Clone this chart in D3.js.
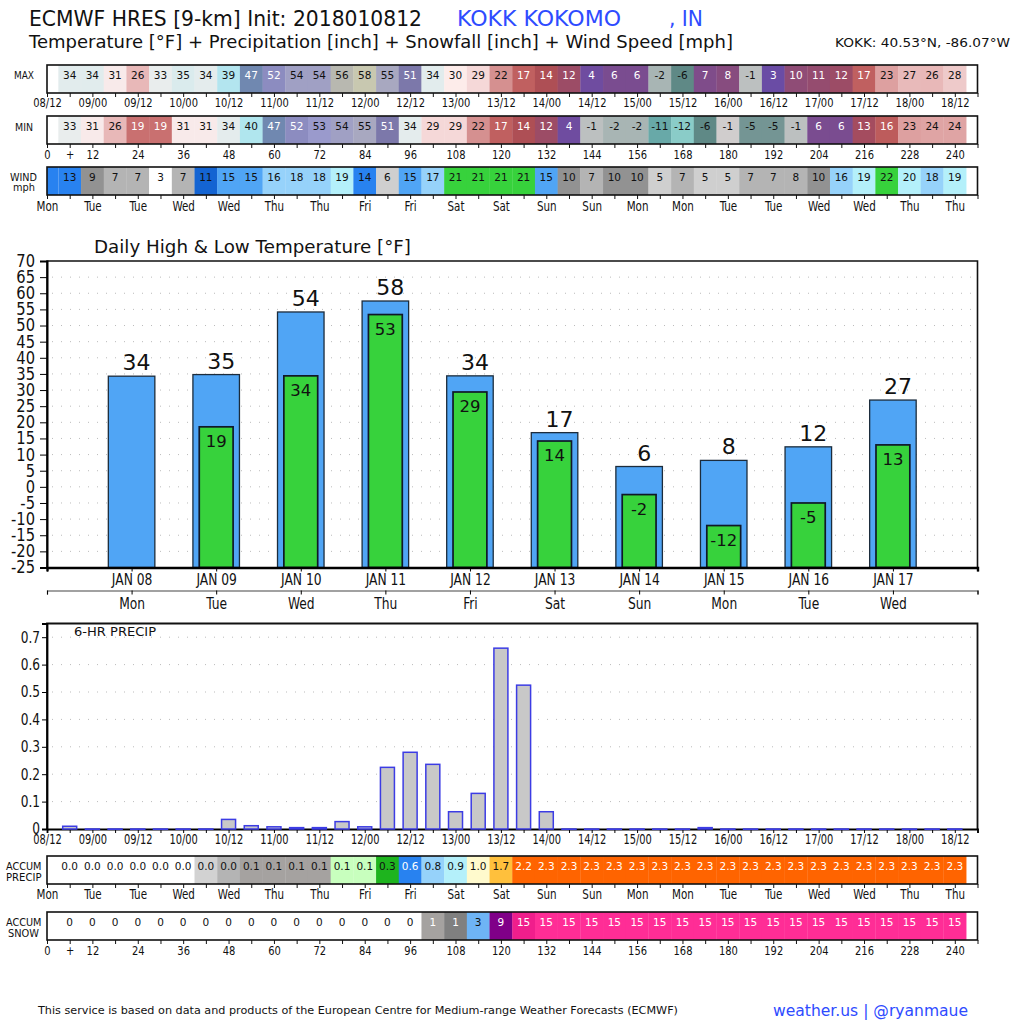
<!DOCTYPE html>
<html>
<head>
<meta charset="utf-8">
<script src="https://cdn.jsdelivr.net/npm/d3@7"></script>
<style>
  html, body { margin: 0; padding: 0; background: #fff; }
  svg { display: block; }
  text { font-family: "DejaVu Sans", sans-serif; fill: #111; }
  .tick text, .cond { font-family: "DejaVu Sans Condensed", "DejaVu Sans", sans-serif; font-stretch: condensed; }
</style>
</head>
<body>
<div id="graphic"></div>
<script>
const width = 1024;
const height = 1024;

const svg = d3.select("#graphic").append("svg")
  .attr("width", width)
  .attr("height", height)
  .attr("viewBox", `0 0 ${width} ${height}`);

// --------------------
// Data, one value per 6 hours, hour 6 to 240
// --------------------
const hours = d3.range(6, 241, 6);

const tMax = [34.2,34.3,31,26,33,35,34,39,47,52,54,54,56,58,55,51,34.2,30,29,22,
  17,14,12,4,6,6,-2,-6,7,8,-1,3,10,11,12,17,23,27,26,28];
const tMin = [33,31,26,19,19,31,31,34,40,47,52,53,54,55,51,34,29,29,22,17,
  14,12,4,-1,-2,-2,-11,-12,-6,-0.6,-5,-5,-1,6,6,13,16,23,24,24];
const wind = [13,9,7,7,3,7,11,15,15,16,18,18,19,14,6,15,17,21,21,21,
  21,15,10,7,10,10,5,7,5,5,7,7,8,10,16,19,22,20,18,19];
const accPrecip = [0,0,0,0,0,0,0.02,0.04,0.1,0.1,0.1,0.1,0.12,0.14,0.3,0.6,0.8,0.9,1.0,1.7,
  2.2,2.3,2.3,2.3,2.3,2.3,2.3,2.3,2.3,2.3,2.3,2.3,2.3,2.3,2.3,2.3,2.3,2.3,2.3,2.3];
const accSnow = [0,0,0,0,0,0,0,0,0,0,0,0,0,0,0,0,1,1.4,3,9,
  14.6,15,15,15,15,15,15,15,15,15,15,15,15,15,15,15,15,15,15,15];
const precip6 = [0.01,0,0,0,0,0,0,0.035,0.012,0.008,0.005,0.005,0.027,0.008,0.225,0.28,0.236,0.063,0.13,0.66,
  0.525,0.063,0,0,0,0,0,0,0.005,0,0,0,0,0,0,0,0,0,0,0];

const days = [
  { label: "JAN 08", day: "Mon", hi: 34.3, lo: null },
  { label: "JAN 09", day: "Tue", hi: 34.8, lo: 18.6 },
  { label: "JAN 10", day: "Wed", hi: 54.2, lo: 34.4 },
  { label: "JAN 11", day: "Thu", hi: 57.6, lo: 53.4 },
  { label: "JAN 12", day: "Fri", hi: 34.4, lo: 29.4 },
  { label: "JAN 13", day: "Sat", hi: 16.8, lo: 14.2 },
  { label: "JAN 14", day: "Sun", hi: 6.3, lo: -2.4 },
  { label: "JAN 15", day: "Mon", hi: 8.2, lo: -12 },
  { label: "JAN 16", day: "Tue", hi: 12.4, lo: -5 },
  { label: "JAN 17", day: "Wed", hi: 26.9, lo: 13 }
];

const dayNames = ["Mon","Tue","Tue","Wed","Wed","Thu","Thu","Fri","Fri","Sat","Sat","Sun","Sun","Mon","Mon","Tue","Tue","Wed","Wed","Thu","Thu"];
const stamps = ["08/12","09/00","09/12","10/00","10/12","11/00","11/12","12/00","12/12","13/00","13/12","14/00","14/12","15/00","15/12","16/00","16/12","17/00","17/12","18/00","18/12"];

// --------------------
// Scales
// --------------------
const x = d3.scaleLinear().domain([0, 246]).range([47, 977.5]);

const tempColor = d3.scaleLinear()
  .domain([-12,-11,-6,-5,-2,-1,-0.6,3,4,6,7,8,10,11,12,13,14,16,17,19,22,23,24,26,27,28,29,30,31,33,34,39,40,47,51,52,53,54,55,56,58])
  .range(["#8accc8","#68a9a8","#5f8986","#749594","#a8b5b4","#bcc0c0","#d0cdcd","#6a4ca5","#6f4ca0","#7a4c90","#7f4c8a","#874c7f","#8f4c76","#954c6f","#9c4c66","#a44c5f","#ae4f55","#bd5c5c","#c06060","#c97070","#d59090","#dda0a0","#dfa4a4","#e8b8b8","#e8baba","#eecaca","#f5d8d8","#fdecea","#f8eaea","#e9eded","#e4eced","#b3e5ef","#b0e6ee","#7088b0","#7c78aa","#8c8cc0","#9a9acc","#a0a0c4","#a8a8c0","#b8b8b0","#c8c8b0"]);

const windColor = d3.scaleThreshold()
  .domain([5,7,9,11,13,15,16,19,21])
  .range(["#ffffff","#cfcfcf","#b4b4b4","#929292","#1464d2","#2882f0","#50a5f5","#96d2fa","#b4f0fa","#37d23c"]);

const precipColor = d3.scaleThreshold()
  .domain([0.01,0.03,0.1,0.12,0.3,0.6,0.8,0.9,1.0,1.7,2.2])
  .range(["#ffffff","#d2d2d2","#b4b4b4","#a5a2a0","#c8ffbe","#1eb41e","#2882f0","#96d2fa","#b4f0fa","#fffacd","#ffc03c","#ff6400"]);

const snowColor = d3.scaleThreshold()
  .domain([1,1.2,3,9,14.5,15])
  .range(["#ffffff","#a5a2a0","#808080","#6eb4f5","#800088","#f01e8c","#ff2d96"]);

// tall, narrow tick labels: squeeze to k of the natural width
function squeeze(sel, k) {
  sel.each(function () {
    const len = this.getComputedTextLength();
    if (len > 0) {
      d3.select(this).attr("textLength", len * k).attr("lengthAdjust", "spacingAndGlyphs");
    }
  });
}

// --------------------
// Strips
// --------------------
function drawStrip(top, values, color, opts) {
  const bottom = top + 28;
  const g = svg.append("g");

  if (opts.firstCell) {
    g.append("rect").attr("x", x(0)).attr("y", top).attr("width", x(3) - x(0)).attr("height", 28).attr("fill", color(opts.firstCell));
  }
  g.selectAll("rect.cell")
    .data(hours.map((h, i) => ({ h, v: values[i] })))
    .join("rect")
    .attr("class", "cell")
    .attr("x", d => x(d.h - 3))
    .attr("y", top)
    .attr("width", x(6) - x(0) + 0.3)
    .attr("height", 28)
    .attr("fill", d => color(d.v));

  g.selectAll("text.val")
    .data(hours.map((h, i) => ({ h, v: values[i] })))
    .join("text")
    .attr("class", "val")
    .attr("x", d => x(d.h))
    .attr("y", top + 14)
    .attr("text-anchor", "middle")
    .attr("font-size", 10.5)
    .style("fill", d => opts.white(d.v) ? "#fff" : "#111")
    .text(d => opts.fmt(d.v));

  // frame
  g.append("rect")
    .attr("x", x(0)).attr("y", top)
    .attr("width", x(246) - x(0)).attr("height", 28)
    .attr("fill", "none").attr("stroke", "#111").attr("stroke-width", 1.6);

  const axis = d3.axisBottom(x)
    .tickValues(d3.range(0, 247, 6))
    .tickSize(4)
    .tickPadding(opts.pad)
    .tickFormat(h => opts.labels(h));
  const ax = svg.append("g").attr("transform", `translate(0,${bottom})`).call(axis);
  ax.select(".domain").remove();
  ax.selectAll("line").attr("stroke", "#111");
  ax.selectAll("text").attr("font-size", opts.tickSize);
  squeeze(ax.selectAll("text"), opts.squeeze);

  opts.side.forEach(s => {
    svg.append("text")
      .attr("x", s.x0)
      .attr("y", top + s.dy)
      .attr("font-size", 9.6)
      .attr("textLength", s.x1 - s.x0)
      .attr("lengthAdjust", "spacingAndGlyphs")
      .text(s.t);
  });
}

const stampLabel = h => (h % 12 === 0 && h <= 240) ? stamps[h / 12] : "";
const dayLabel = h => (h % 12 === 0 && h <= 240) ? dayNames[h / 12] : "";
const hourLabel = h => h === 6 ? "+" : (h % 12 === 0 && h <= 240 ? String(h) : "");

const tempWhite = v => (v >= 3 && v <= 19) || (v >= 47 && v <= 52);
const roundFmt = v => String(Math.round(v));

drawStrip(65, tMax, tempColor, { white: tempWhite, fmt: roundFmt, labels: stampLabel, pad: 2, tickSize: 11.5, squeeze: 0.96,
  side: [{ t: "MAX", x0: 14, x1: 34, dy: 13.5 }] });
drawStrip(116, tMin, tempColor, { white: tempWhite, fmt: roundFmt, labels: hourLabel, pad: 2.5, tickSize: 12, squeeze: 0.92,
  side: [{ t: "MIN", x0: 15, x1: 33, dy: 14.5 }] });
drawStrip(167, wind, windColor, { white: () => false, fmt: String, labels: dayLabel, pad: 2.3, tickSize: 13.2, squeeze: 0.87, firstCell: 13,
  side: [{ t: "WIND", x0: 10, x1: 37, dy: 13.5 }, { t: "mph", x0: 13, x1: 35, dy: 24 }] });
drawStrip(856, accPrecip, precipColor, { white: v => v === 0.6 || v >= 2, fmt: v => v.toFixed(1), labels: dayLabel, pad: 2, tickSize: 13.2, squeeze: 0.87,
  side: [{ t: "ACCUM", x0: 6, x1: 41.5, dy: 14 }, { t: "PRECIP", x0: 6, x1: 41.5, dy: 25 }] });
drawStrip(912, accSnow, snowColor, { white: v => (v >= 1 && v < 3) || v >= 9, fmt: roundFmt, labels: hourLabel, pad: 2, tickSize: 12, squeeze: 0.92,
  side: [{ t: "ACCUM", x0: 6, x1: 41.5, dy: 14 }, { t: "SNOW", x0: 8, x1: 39, dy: 25 }] });

// --------------------
// Daily high / low
// --------------------
const dayX = d3.scaleLinear().domain([-1, 10]).range([47, 977.5]);
const y = d3.scaleLinear().domain([-25, 70]).range([567.5, 261]);
const blueW = dayX(0.55) - dayX(0);
const greenW = dayX(0.4) - dayX(0);

const main = svg.append("g");

main.selectAll("line.grid")
  .data(d3.range(-20, 70, 5))
  .join("line")
  .attr("class", "grid")
  .attr("x1", 52).attr("x2", 977)
  .attr("y1", d => y(d)).attr("y2", d => y(d))
  .attr("stroke", "#bbb")
  .attr("stroke-dasharray", "1,8");

main.selectAll("rect.hi")
  .data(days)
  .join("rect")
  .attr("class", "hi")
  .attr("x", (d, i) => dayX(i) - blueW / 2)
  .attr("y", d => y(d.hi))
  .attr("width", blueW)
  .attr("height", d => y(-25) - y(d.hi))
  .attr("fill", "#50a5f5")
  .attr("stroke", "#1c2c3c")
  .attr("stroke-width", 1.3);

const lows = days.map((d, i) => ({ ...d, i })).filter(d => d.lo !== null);

main.selectAll("rect.lo")
  .data(lows)
  .join("rect")
  .attr("class", "lo")
  .attr("x", d => dayX(d.i) - greenW / 2)
  .attr("y", d => y(d.lo))
  .attr("width", greenW)
  .attr("height", d => y(-25) - y(d.lo))
  .attr("fill", "#37d23c")
  .attr("stroke", "#101828")
  .attr("stroke-width", 1.7);

main.selectAll("text.hiLabel")
  .data(days)
  .join("text")
  .attr("class", "hiLabel")
  .attr("x", (d, i) => dayX(i) + 5)
  .attr("y", d => y(d.hi) - 6)
  .attr("text-anchor", "middle")
  .attr("font-size", 22)
  .text(d => Math.round(d.hi));

main.selectAll("text.loLabel")
  .data(lows)
  .join("text")
  .attr("class", "loLabel")
  .attr("x", d => dayX(d.i))
  .attr("y", d => y(d.lo) + 20)
  .attr("text-anchor", "middle")
  .attr("font-size", 16.5)
  .text(d => Math.round(d.lo));

// frame + axes
svg.append("path")
  .attr("d", `M${dayX(-1)},${y(-25)}V${y(70)}H${dayX(10)}V${y(-25)}`)
  .attr("fill", "none").attr("stroke", "#111").attr("stroke-width", 1.6);

const yAxis = d3.axisLeft(y).tickValues(d3.range(-25, 71, 5)).tickSize(7).tickPadding(5).tickFormat(String);
const gy = svg.append("g").attr("transform", `translate(${dayX(-1)},0)`).call(yAxis);
gy.select(".domain").attr("stroke-width", 2);
gy.selectAll("text").attr("font-size", 17);
squeeze(gy.selectAll("text"), 0.96);

const dayTicks = d3.range(-1, 11);
const xAxis1 = d3.axisBottom(dayX).tickValues(dayTicks).tickSize(4).tickPadding(3)
  .tickFormat(i => days[i] ? days[i].label : "");
const gx1 = svg.append("g").attr("transform", `translate(0,${y(-25)})`).call(xAxis1);
gx1.select(".domain").attr("stroke-width", 2.4);
gx1.selectAll("text").attr("font-size", 15);
squeeze(gx1.selectAll("text"), 0.91);

const xAxis2 = d3.axisBottom(dayX).tickValues(dayTicks).tickSize(4).tickPadding(4)
  .tickFormat(i => days[i] ? days[i].day : "");
const gx2 = svg.append("g").attr("transform", "translate(0,590.5)").call(xAxis2);
gx2.select(".domain").attr("stroke", "#444").attr("stroke-width", 1.2);
gx2.selectAll("text").attr("font-size", 15);
squeeze(gx2.selectAll("text"), 0.91);

// --------------------
// 6-hr precip
// --------------------
const yP = d3.scaleLinear().domain([0, 0.75]).range([829, 623.5]);
const pg = svg.append("g");

pg.selectAll("line.grid")
  .data(d3.range(1, 8).map(d => d / 10))
  .join("line")
  .attr("class", "grid")
  .attr("x1", 52).attr("x2", 977)
  .attr("y1", d => yP(d)).attr("y2", d => yP(d))
  .attr("stroke", "#bbb")
  .attr("stroke-dasharray", "1,8");

svg.append("path")
  .attr("d", `M${x(0)},${yP(0)}V${yP(0.75)}H${x(246)}V${yP(0)}`)
  .attr("fill", "none").attr("stroke", "#111").attr("stroke-width", 1.8);

const yPAxis = d3.axisLeft(yP).tickValues(d3.range(0, 8).map(d => d / 10)).tickSize(5).tickPadding(2)
  .tickFormat(d => d === 0 ? "0" : d.toFixed(1));
const gyP = svg.append("g").attr("transform", `translate(${x(0)},0)`).call(yPAxis);
gyP.select(".domain").attr("stroke-width", 1.8);
gyP.selectAll("text").attr("font-size", 15);
squeeze(gyP.selectAll("text"), 0.9);

const xPAxis = d3.axisBottom(x).tickValues(d3.range(0, 247, 6)).tickSize(4).tickPadding(0.6).tickFormat(stampLabel);
const gxP = svg.append("g").attr("transform", `translate(0,${yP(0)})`).call(xPAxis);
gxP.select(".domain").attr("stroke-width", 1.8);
gxP.selectAll("text").attr("font-size", 14.6);
squeeze(gxP.selectAll("text"), 0.75);

pg.raise();
pg.selectAll("rect.bar")
  .data(hours.map((h, i) => ({ h, v: precip6[i] })))
  .join("rect")
  .attr("class", "bar")
  .attr("x", d => x(d.h) - 7)
  .attr("y", d => yP(d.v))
  .attr("width", 14)
  .attr("height", d => Math.max(yP(0) - yP(d.v), 0.3))
  .attr("fill", "#c8c8c8")
  .attr("stroke", "#3c3ce4")
  .attr("stroke-width", 1.5);

// --------------------
// Titles
// --------------------
function label(txt, x0, x1, base, size, color) {
  return svg.append("text")
    .attr("x", x0).attr("y", base)
    .attr("font-size", size)
    .attr("textLength", x1 - x0)
    .attr("lengthAdjust", "spacingAndGlyphs")
    .style("fill", color || "#111")
    .text(txt);
}
const BLUE = "#2e4bff";
label("ECMWF HRES [9-km] Init: 2018010812", 29, 422, 26, 21);
label("KOKK KOKOMO", 457, 621, 26, 21, BLUE);
label(", IN", 669, 703, 26, 21, BLUE);
label("Temperature [°F] + Precipitation [inch] + Snowfall [inch] + Wind Speed [mph]", 29, 733, 48, 17);
label("KOKK: 40.53°N, -86.07°W", 835, 1010, 47, 12.5);
label("Daily High & Low Temperature [°F]", 94, 411, 253, 17);
label("6-HR PRECIP", 74, 156, 636, 13).attr("class", "cond");
label("This service is based on data and products of the European Centre for Medium-range Weather Forecasts (ECMWF)", 38, 678, 1014, 11);
label("weather.us | @ryanmaue", 773, 968, 1016, 15, BLUE);
</script>
</body>
</html>
